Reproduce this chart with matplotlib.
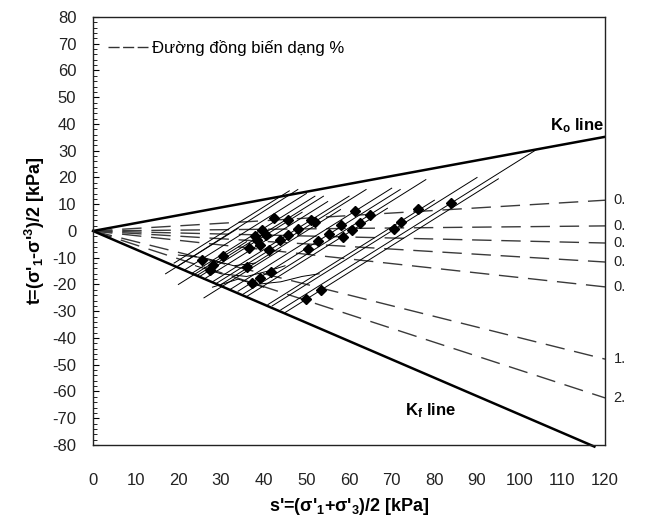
import numpy as np
import matplotlib.pyplot as plt
from matplotlib.lines import Line2D
from matplotlib.ticker import MultipleLocator

plt.rcParams['font.family'] = ['Liberation Sans', 'DejaVu Sans']
plt.rcParams['mathtext.fontset'] = 'custom'
plt.rcParams['mathtext.rm'] = 'Liberation Sans:bold'
plt.rcParams['mathtext.default'] = 'rm'
plt.rcParams['axes.unicode_minus'] = False

# Ko / Kf envelope lines (s', t)
ko_s = [0, 120]
ko_t = [0, 35.2]
kf_s = [0, 117.5]
kf_t = [0, -80.6]

# iso-strain lines from the origin, value of t at s' = 120
strain_t_end = [11.5, 1.9, -4.5, -11.6, -20.9, -47.9, -62.4]
strain_tags = ['0.', '0.', '0.', '0.', '0.', '1.', '2.']

# stress paths: start (s0, t0) -> end (s1, t1)
path_s0 = [19, 20, 21.5, 23, 24.5, 25, 26, 28, 29, 30, 32, 34, 35, 36, 41, 42, 44, 45, 20, 26, 17]
path_t0 = [-12, -13, -14.5, -16, -16.5, -17, -18, -19, -19.5, -20, -22, -22.5, -23.8, -24.5, -27.5, -28, -29.5, -30.5, -20, -25, -16]
path_s1 = [46, 48, 50, 52, 54, 49, 55, 60, 64, 58, 70, 72, 78, 69, 80, 90, 104, 95, 36, 44, 34]
path_t1 = [15, 15.5, 14, 13, 13, 7, 11, 13, 15.5, 8, 16, 15.5, 19.2, 8.5, 11.5, 20, 30.5, 19.5, -4, -7, 1]

# bent paths in the lower-left cluster
bent_s = [[20, 26, 33, 38], [24, 30, 36, 41, 45], [38, 44, 49, 53], [28, 34, 40]]
bent_t = [[-9, -10, -13, -12], [-13, -16, -17, -15, -13], [-20, -19, -17, -16], [-21, -18, -21]]

# end-of-consolidation points
marker_s = [61.5, 64.8, 76.1, 83.8, 58.0, 62.5, 60.8, 58.5, 55.2, 52.8, 50.3, 70.5, 72.1, 53.5, 49.8,
            51.0, 52.1, 42.3, 45.8, 39.7, 40.6, 38.5, 36.6, 41.3, 43.9, 45.6, 48.1, 25.6, 28.2, 27.5,
            30.5, 36.2, 39.2, 41.8, 37.3, 38.0, 39.2]
marker_t = [7.5, 6.0, 8.2, 10.5, 2.2, 3.0, 0.4, -2.2, -1.1, -3.7, -6.7, 0.7, 3.4, -22.1, -25.4,
            4.1, 3.4, 4.9, 4.1, 0.4, -1.5, -3.4, -6.4, -7.1, -3.4, -1.5, 0.7, -10.8, -12.7, -14.6,
            -9.3, -13.5, -17.6, -15.3, -19.4, -1.9, -5.2]

fig = plt.figure(figsize=(6.51, 5.24), dpi=100)
ax = fig.add_axes([0.1429, 0.1508, 0.7865, 0.8168])

for v in strain_t_end:
    ax.plot([0, 120], [0, v], color='#3a3a3a', lw=1.0, dashes=(14, 7))

for s0, t0, s1, t1 in zip(path_s0, path_t0, path_s1, path_t1):
    ax.plot([s0, s1], [t0, t1], color='black', lw=0.7)
for bs, bt in zip(bent_s, bent_t):
    ax.plot(bs, bt, color='black', lw=0.7)

ax.plot(marker_s, marker_t, 'D', color='black', ms=5.5, ls='none')

ax.plot(ko_s, ko_t, color='black', lw=1.8)
ax.plot(kf_s, kf_t, color='black', lw=1.8, clip_on=False)

ax.text(107, 37.5, r'K$_o$ line', fontsize=12, weight='bold')
ax.text(73, -68.8, r'K$_f$ line', fontsize=12, weight='bold')

for v, tag in zip(strain_t_end, strain_tags):
    ax.text(122, v, tag, fontsize=10.5, va='center', color='#222222', clip_on=False)

leg_handle = Line2D([], [], color='#333333', lw=1.0, dashes=(8, 2.5))
ax.legend([leg_handle], ['Đường đồng biến dạng %'], loc='center left',
          bbox_to_anchor=(0.03, 0.927), frameon=False, fontsize=12,
          handlelength=2.4, handletextpad=0.2, borderaxespad=0, borderpad=0)

ax.set_xlim(0, 120)
ax.set_ylim(-80, 80)
ax.set_xticks(np.arange(0, 121, 10))
ax.set_yticks(np.arange(-80, 81, 10))
ax.yaxis.set_minor_locator(MultipleLocator(2))
ax.tick_params(axis='x', length=0, pad=20, labelsize=12, labelcolor='#222222')
ax.tick_params(axis='y', which='major', direction='in', length=4, pad=12,
               labelsize=12, labelcolor='#222222')
ax.tick_params(axis='y', which='minor', direction='in', length=3)
for sp in ax.spines.values():
    sp.set_linewidth(1.0)
    sp.set_color('#222222')

ax.set_xlabel("s'=(σ'$_1$+σ'$_3$)/2 [kPa]", fontsize=13, weight='bold', labelpad=6)
ax.set_ylabel("t=(σ'$_1$-σ'$^3$)/2 [kPa]", fontsize=13, weight='bold', labelpad=4)

fig.savefig('out.png', dpi=100)
